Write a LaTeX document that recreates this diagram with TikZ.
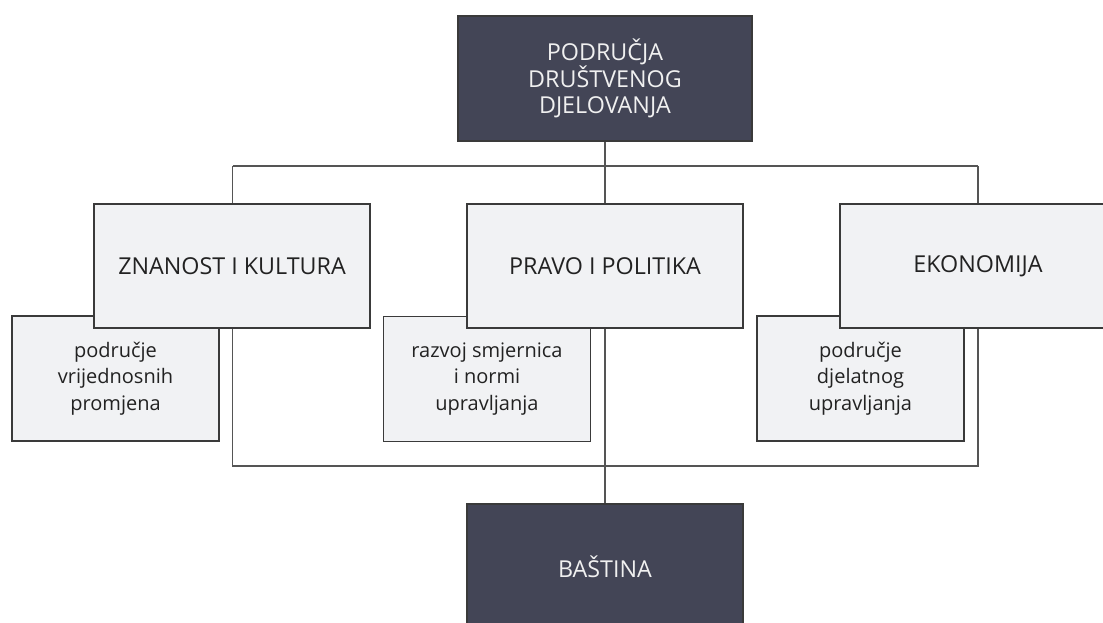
\documentclass[tikz,border=0pt]{standalone}
\usepackage{fontspec}
\setmainfont{Open Sans}
\definecolor{darkfill}{HTML}{434556}
\definecolor{lightfill}{HTML}{F1F2F4}
\definecolor{edge}{HTML}{3A3A3A}
\definecolor{linec}{HTML}{555555}
\definecolor{txt}{HTML}{222222}
\pgfdeclarelayer{bg}
\pgfsetlayers{bg,main}
\begin{document}
\begin{tikzpicture}[x=1pt,y=-1pt,
  base/.style={draw=edge, line width=1.2pt, align=center, inner sep=0pt,
    font=\fontsize{23.3}{26}\selectfont},
  darkbox/.style={base, fill=darkfill, text=white!94!black},
  bigbox/.style={base, fill=lightfill, text=txt, minimum width=276pt, minimum height=124pt},
  smallbox/.style={base, fill=lightfill, text=txt, minimum width=207pt, minimum height=125pt,
    font=\fontsize{20}{26.3}\selectfont},
  conn/.style={draw=linec, line width=1.5pt}]
\useasboundingbox (0,0) rectangle (1103,623);
\clip (0,0) rectangle (1103,623);
% joints
\coordinate (tl) at (232.5,166);
\coordinate (tr) at (978,166);
\coordinate (bl) at (232.5,466);
\coordinate (br) at (978,466);
% dark boxes
\node[darkbox, minimum width=294pt, minimum height=125pt] (top) at (605,78.5) {PODRUČJA\\DRUŠTVENOG\\DJELOVANJA};
\node[darkbox, minimum width=276pt, minimum height=125pt] (bastina) at (605,566.5) {BAŠTINA};
% small boxes
\node[smallbox] (vrij) at (115.5,378.5) {područje\\vrijednosnih\\promjena};
\node[smallbox] (razvoj) at (487,379) {razvoj smjernica\\i normi\\upravljanja};
\node[smallbox] (djel) at (860.5,378.5) {područje\\djelatnog\\upravljanja};
% big boxes
\node[bigbox] (znanost) at (232,266) {ZNANOST I KULTURA};
\node[bigbox] (pravo) at (605,266) {PRAVO I POLITIKA};
\node[bigbox] (ekon) at (978,266) {EKONOMIJA};
% connectors behind boxes
\begin{pgfonlayer}{bg}
\draw[conn] (top.south) -- (pravo.north);
\draw[conn] (tl) -- (tr);
\draw[conn] (tl) -- (bl) -- (br) -- (tr);
\draw[conn] (pravo.south) -- (bastina.north);
\end{pgfonlayer}
\end{tikzpicture}
\end{document}
